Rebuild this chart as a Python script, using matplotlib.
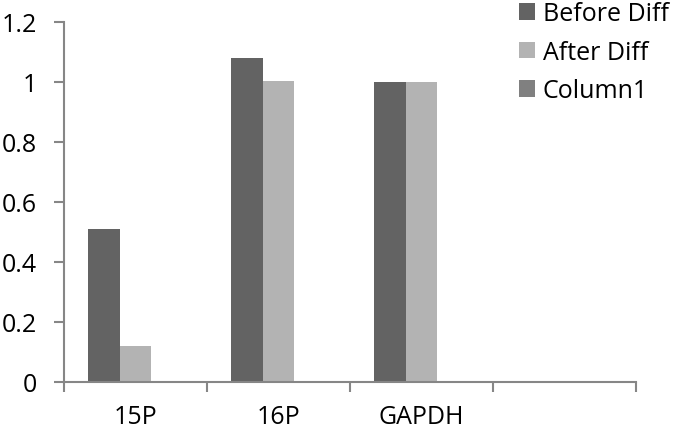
import numpy as np
import matplotlib
matplotlib.use("Agg")
import matplotlib.pyplot as plt

categories = ["15P", "16P", "GAPDH", ""]
before_diff = [0.51, 1.08, 1.0, np.nan]
after_diff = [0.12, 1.005, 1.0, np.nan]
column1 = [0, 0, 0, np.nan]
series_names = ["Before Diff", "After Diff", "Column1"]
colors = ["#636363", "#b3b3b3", "#808080"]
y_ticks = [0, 0.2, 0.4, 0.6, 0.8, 1, 1.2]
y_labels = ["0", "0.2", "0.4", "0.6", "0.8", "1", "1.2"]

plt.rcParams["font.family"] = ["Open Sans", "DejaVu Sans"]

fig = plt.figure(figsize=(6.74, 4.31), dpi=100)
ax = fig.add_axes([64 / 674, 1 - 383 / 431, (636 - 64) / 674, (383 - 23) / 431])

x = np.arange(len(categories))
width = 1 / 4.5
for i, (vals, name, c) in enumerate(zip([before_diff, after_diff, column1], series_names, colors)):
    ax.bar(x + (i - 1) * width, vals, width, color=c, label=name, linewidth=0)

ax.set_xlim(-0.5, len(categories) - 0.5)
ax.set_ylim(0, 1.2)

axis_color = "#868686"
for side in ["top", "right"]:
    ax.spines[side].set_visible(False)
for side in ["left", "bottom"]:
    ax.spines[side].set_color(axis_color)
    ax.spines[side].set_linewidth(1.5)

ax.set_yticks(y_ticks)
ax.set_yticklabels(y_labels)
ax.tick_params(axis="y", length=7.5, width=1.5, color=axis_color, pad=12, labelsize=18)

# category boundaries as ticks, labels centred in between
ax.set_xticks(np.arange(len(categories) + 1) - 0.5)
ax.set_xticklabels([])
ax.tick_params(axis="x", which="major", length=7.5, width=1.5, color=axis_color)
ax.set_xticks(x, minor=True)
ax.set_xticklabels(categories, minor=True)
ax.tick_params(axis="x", which="minor", length=0, pad=16, labelsize=18)

fig.legend(loc="upper left", bbox_to_anchor=(519 / 674, 1 - 2 / 431), frameon=False,
           fontsize=18, handlelength=0.65, handleheight=0.65, handletextpad=0.3,
           labelspacing=0.55, borderaxespad=0, borderpad=0)

plt.savefig("out.png", dpi=100)
plt.close()
